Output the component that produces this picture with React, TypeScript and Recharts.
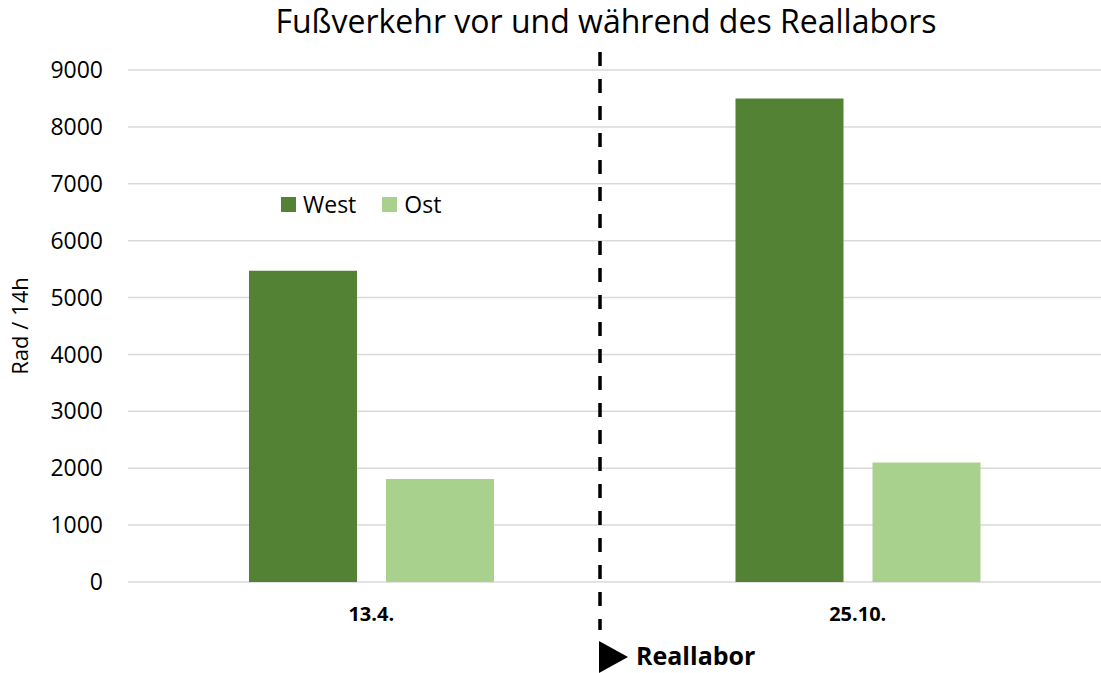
import { BarChart, Bar, XAxis, YAxis, CartesianGrid } from 'recharts'

const categories = ['13.4.', '25.10.']
const westValues = [5470, 8500]
const ostValues = [1810, 2100]
const yTicks = [0, 1000, 2000, 3000, 4000, 5000, 6000, 7000, 8000, 9000]

const data = categories.map((date, i) => ({ date, west: westValues[i], ost: ostValues[i] }))

const WEST = '#548235'
const OST = '#A9D18E'
const FONT = '"Open Sans", sans-serif'

const series = [
  { key: 'west', name: 'West', color: WEST },
  { key: 'ost', name: 'Ost', color: OST },
]

export default function App() {
  return (
    <div style={{ position: 'relative', width: 1101, height: 673, background: '#fff' }}>
      <style>{'body{margin:0}'}</style>
      <BarChart
        width={1101}
        height={673}
        data={data}
        margin={{ top: 70, right: 0, left: 0, bottom: 51 }}
        barSize={108}
        barGap={29}
      >
        <CartesianGrid horizontal vertical={false} stroke="#d9d9d9" strokeWidth={1.5} />
        <XAxis
          dataKey="date"
          axisLine={false}
          tickLine={false}
          tickSize={0}
          tickMargin={25}
          height={40}
          tick={{ fill: '#000', fontSize: 20, fontWeight: 700, fontFamily: FONT }}
        />
        <YAxis
          domain={[0, 9000]}
          ticks={yTicks}
          width={128}
          axisLine={false}
          tickLine={false}
          tickSize={0}
          tickMargin={25}
          tick={{ fill: '#000', fontSize: 23, fontFamily: FONT }}
          label={{
            value: 'Rad / 14h',
            angle: -90,
            position: 'insideLeft',
            offset: 0,
            dx: 20,
            style: { fill: '#000', fontSize: 22, fontFamily: FONT, textAnchor: 'middle' },
          }}
        />
        {series.map(s => (
          <Bar key={s.key} dataKey={s.key} name={s.name} fill={s.color} isAnimationActive={false} />
        ))}
      </BarChart>
      <div
        style={{
          position: 'absolute', left: 281, top: 189, display: 'flex', alignItems: 'center',
          fontFamily: FONT, fontSize: 23, color: '#000', lineHeight: '30px',
        }}
      >
        {series.map((s, i) => (
          <span key={s.key} style={{ display: 'flex', alignItems: 'center', marginRight: i === 0 ? 26 : 0 }}>
            <span style={{ width: 15, height: 15, background: s.color, display: 'inline-block', marginRight: 7 }} />
            {s.name}
          </span>
        ))}
      </div>
      <svg
        width={1101}
        height={673}
        style={{ position: 'absolute', left: 0, top: 0, pointerEvents: 'none' }}
      >
        <text x={606} y={33} textAnchor="middle" fontFamily={FONT} fontSize={32} fill="#000">
          Fußverkehr vor und während des Reallabors
        </text>
        <line x1={600} y1={52} x2={600} y2={630} stroke="#000" strokeWidth={3.5} strokeDasharray="14 13" />
        <polygon points="599,641 628,657 599,673" fill="#000" />
        <text x={636} y={665} fontFamily={FONT} fontSize={25} fontWeight={700} fill="#000">
          Reallabor
        </text>
      </svg>
    </div>
  )
}
